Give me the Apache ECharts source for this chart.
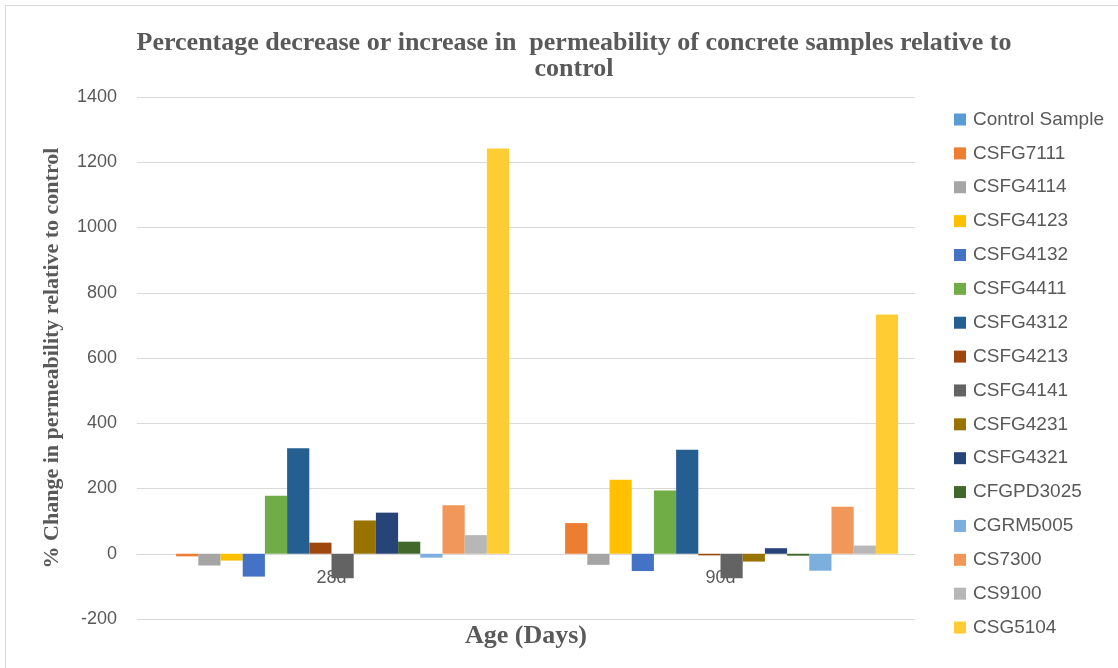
<!DOCTYPE html>
<html>
<head>
<meta charset="utf-8">
<style>
  html, body { margin: 0; padding: 0; background: #ffffff; }
  #chart { width: 1118px; height: 668px; }
</style>
<script src="https://cdn.jsdelivr.net/npm/echarts@6/dist/echarts.min.js"></script>
</head>
<body>
<div id="chart"></div>
<script>
// Age groups on the category axis
const ages = ['28d', '90d'];

// Sample names (legend order)
const samples = [
  'Control Sample', 'CSFG7111', 'CSFG4114', 'CSFG4123', 'CSFG4132', 'CSFG4411',
  'CSFG4312', 'CSFG4213', 'CSFG4141', 'CSFG4231', 'CSFG4321', 'CFGPD3025',
  'CGRM5005', 'CS7300', 'CS9100', 'CSG5104'
];

// % change in permeability relative to control, per sample: [28d, 90d]
const controlSample = [0, 0];
const csfg7111 = [-8, 94];
const csfg4114 = [-36, -34];
const csfg4123 = [-21, 227];
const csfg4132 = [-70, -53];
const csfg4411 = [178, 194];
const csfg4312 = [323, 319];
const csfg4213 = [34, -5];
const csfg4141 = [-75, -75];
const csfg4231 = [102, -24];
const csfg4321 = [126, 17];
const cfgpd3025 = [37, -6];
const cgrm5005 = [-12, -52];
const cs7300 = [149, 144];
const cs9100 = [57, 25];
const csg5104 = [1242, 733];

const seriesValues = [
  controlSample, csfg7111, csfg4114, csfg4123, csfg4132, csfg4411,
  csfg4312, csfg4213, csfg4141, csfg4231, csfg4321, cfgpd3025,
  cgrm5005, cs7300, cs9100, csg5104
];

// Y axis range and step
const yMin = -200;
const yMax = 1400;
const yStep = 200;

const palette = [
  '#5B9BD5', '#ED7D31', '#A5A5A5', '#FFC000', '#4472C4', '#70AD47',
  '#255E91', '#9E480E', '#636363', '#997300', '#264478', '#43682B',
  '#7CAFDD', '#F1975A', '#B7B7B7', '#FFCD33'
];

const sansFont = '"Liberation Sans", Arial, sans-serif';
const serifFont = '"Liberation Serif", "Times New Roman", serif';

const chart = echarts.init(document.getElementById('chart'), null, { renderer: 'canvas' });

const series = samples.map((name, i) => ({
  name: name,
  type: 'bar',
  data: seriesValues[i],
  barGap: '0%',
  barCategoryGap: '8.7%',
  itemStyle: { color: palette[i] },
  emphasis: { disabled: true }
}));

chart.setOption({
  animation: false,
  backgroundColor: '#ffffff',
  color: palette,
  title: {
    text: 'Percentage decrease or increase in  permeability of concrete samples relative to\ncontrol',
    left: 569,
    top: 25,
    textAlign: 'center',
    textStyle: {
      fontFamily: serifFont,
      fontWeight: 'bold',
      fontSize: 26,
      lineHeight: 26,
      color: '#595959'
    }
  },
  legend: {
    orient: 'vertical',
    left: 949,
    top: 105,
    icon: 'rect',
    itemWidth: 12,
    itemHeight: 12,
    itemGap: 14.87,
    data: samples,
    selectedMode: false,
    textStyle: {
      fontFamily: sansFont,
      fontSize: 19,
      lineHeight: 19,
      color: '#595959',
      padding: [0, 0, 0, 2]
    }
  },
  grid: {
    left: 137,
    right: 203,
    top: 97,
    bottom: 49,
    containLabel: false,
    outerBoundsMode: 'none'
  },
  xAxis: {
    type: 'category',
    data: ages,
    name: 'Age (Days)',
    nameLocation: 'middle',
    nameGap: 4,
    nameTextStyle: {
      fontFamily: serifFont,
      fontWeight: 'bold',
      fontSize: 26,
      color: '#595959'
    },
    axisLine: { show: true, onZero: true, lineStyle: { color: '#d9d9d9', width: 1 } },
    axisTick: { show: false },
    axisLabel: {
      fontFamily: sansFont,
      fontSize: 18,
      color: '#595959',
      // category labels sit just under the zero line
      margin: -50
    },
    splitLine: { show: false }
  },
  yAxis: {
    type: 'value',
    min: yMin,
    max: yMax,
    interval: yStep,
    name: '% Change in permeability relative to control',
    nameLocation: 'middle',
    nameGap: 74,
    nameTextStyle: {
      fontFamily: serifFont,
      fontWeight: 'bold',
      fontSize: 22,
      color: '#595959'
    },
    axisLine: { show: false },
    axisTick: { show: false },
    axisLabel: {
      fontFamily: sansFont,
      fontSize: 18,
      color: '#595959',
      margin: 20,
      formatter: (v) => String(v)
    },
    splitLine: { show: true, lineStyle: { color: '#d9d9d9', width: 1 } }
  },
  graphic: [{
    type: 'rect',
    shape: { x: 5.5, y: 5.5, width: 1200, height: 700 },
    style: { fill: 'none', stroke: '#d9d9d9', lineWidth: 1 },
    silent: true,
    z: -1
  }],
  series: series
});
</script>
</body>
</html>
